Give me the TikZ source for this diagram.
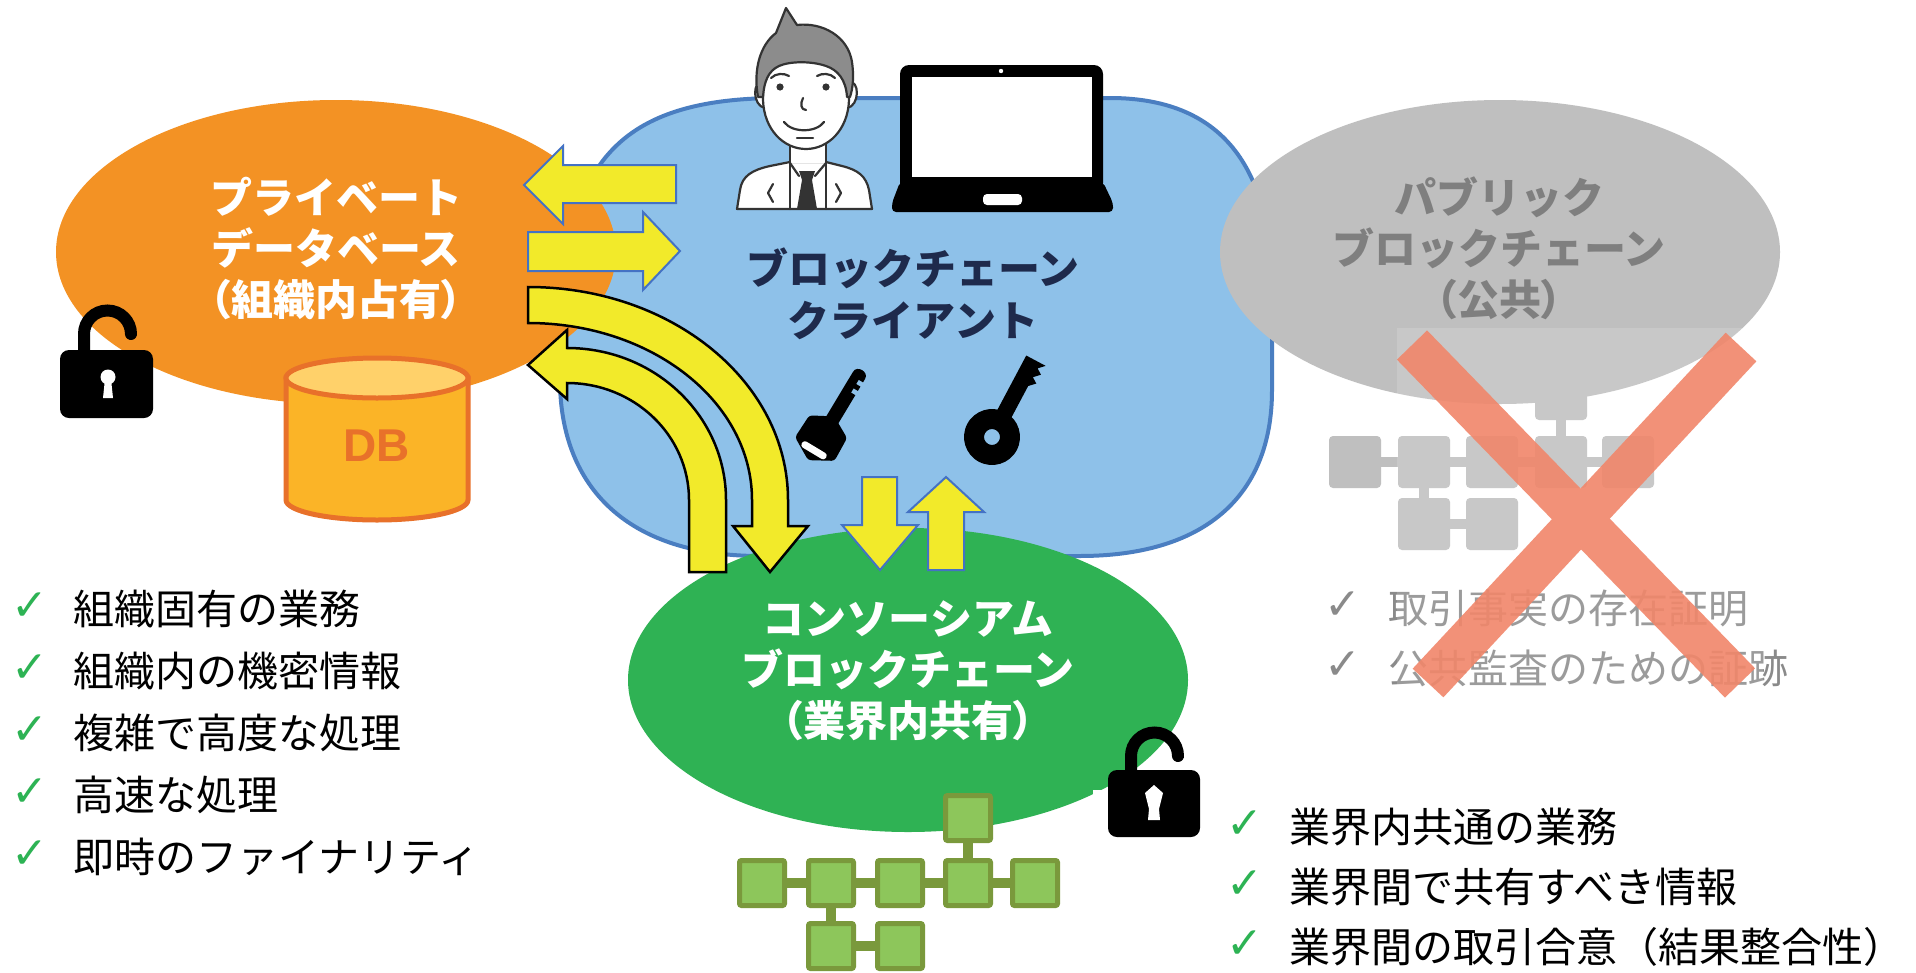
\documentclass[tikz,border=0pt]{standalone}
\usepackage{fontspec}
\usetikzlibrary{shapes.geometric}

\newfontfamily\jp{Noto Sans CJK JP}
\newfontfamily\jpprop{Noto Sans CJK JP}[RawFeature=+palt]
\newfontfamily\symfont{DejaVu Sans}
\newfontfamily\labelsans{Liberation Sans}

\definecolor{privorange}{HTML}{F39224}
\definecolor{cloudblue}{HTML}{8EC1E9}
\definecolor{cloudedge}{HTML}{4A7EC1}
\definecolor{pubgray}{HTML}{BFBFBF}
\definecolor{pubtext}{HTML}{7F7F7F}
\definecolor{consgreen}{HTML}{2FB254}
\definecolor{navy}{HTML}{1E2A4C}
\definecolor{arrowyellow}{HTML}{F2EA2A}
\definecolor{arrowblue}{HTML}{4472C4}
\definecolor{blockfill}{HTML}{8DC65B}
\definecolor{blockedge}{HTML}{7A993C}
\definecolor{dbbody}{HTML}{FBB427}
\definecolor{dbtop}{HTML}{FFD16A}
\definecolor{dbedge}{HTML}{E8712A}
\definecolor{crossred}{HTML}{F1866A}
\definecolor{tickgreen}{HTML}{2DB354}
\definecolor{ink}{HTML}{333333}
\definecolor{hair}{HTML}{8C8C8C}
\definecolor{listgray}{HTML}{8A8A8A}

\tikzset{
  bubble/.style={ellipse, inner sep=0pt, minimum width=560pt, minimum height=304pt},
  head/.style={align=center, inner sep=0pt, font=\jp\bfseries\fontsize{42}{51}\selectfont},
  item/.style={anchor=west, inner sep=0pt, font=\jp\fontsize{41}{41}\selectfont},
  tick/.style={inner sep=0pt, font=\symfont\bfseries\fontsize{44}{44}\selectfont},
  flatarrow/.style={fill=arrowyellow, draw=arrowblue, line width=2pt, line join=miter},
  bentarrow/.style={fill=arrowyellow, draw=black, line width=2.5pt, line join=miter},
  greenblock/.style={draw=blockedge, fill=blockfill, line width=5pt, rounded corners=2pt,
    minimum size=45pt, inner sep=0pt},
  grayblock/.style={fill=pubgray, rounded corners=4pt, minimum size=52pt, inner sep=0pt},
  greenlink/.style={draw=blockedge, line width=10pt},
  graylink/.style={draw=pubgray, line width=10pt},
  outline/.style={draw=ink, line width=2.2pt, line join=round, line cap=round},
}

\begin{document}
\begin{tikzpicture}[x=1pt, y=-1pt]
\useasboundingbox (0,0) rectangle (1916,972);
\fill[white] (0,0) rectangle (1916,972);

% ---------- blockchain client cloud ----------
\draw[fill=cloudblue, draw=cloudedge, line width=4pt]
  (780,98) -- (1110,98) .. controls (1228,98) and (1272,175) .. (1272,290)
  -- (1272,390) .. controls (1272,500) and (1200,556) .. (1080,556)
  -- (760,556) .. controls (620,556) and (560,480) .. (560,380)
  -- (560,350) .. controls (560,170) and (610,98) .. (780,98) -- cycle;

% ---------- three ledgers ----------
\node[bubble, fill=privorange] (priv) at (336,252) {};
\node[bubble, fill=pubgray] (pub) at (1500,252) {};
\node[bubble, fill=consgreen] (cons) at (908,680) {};

\node[head, text=white] (privtext) at (336,248)
  {プライベート\\データベース\\{\jpprop （組織内占有）}};
\node[head, text=pubtext] (pubtext) at (1499,248)
  {パブリック\\ブロックチェーン\\{\jpprop （公共）}};
\node[head, text=white] (constext) at (908,671)
  {コンソーシアム\\ブロックチェーン\\{\jpprop （業界内共有）}};
\node[head, text=navy, font=\jp\bfseries\fontsize{42}{52}\selectfont] (clienttext) at (913,294)
  {ブロックチェーン\\クライアント};

% ---------- user ----------
\begin{scope}
  % shoulders
  \draw[outline, fill=white]
    (737,209) -- (740,190) .. controls (742,176) and (752,170) .. (770,166) -- (790,162)
    -- (826,162) -- (842,166) .. controls (858,170) and (866,176) .. (869,190) -- (872,209) -- cycle;
  % neck
  \fill[white] (790,135) rectangle (826,163);
  \draw[outline] (790,140) -- (790,209) (826,140) -- (826,209);
  \draw[outline] (790,163) -- (799,176) (826,163) -- (815,176);
  % tie
  \fill[ink] (799,171) -- (815,171) -- (812,180) -- (802,180) -- cycle;
  \fill[ink] (802,180) -- (812,180) -- (817,209) -- (797,209) -- cycle;
  % lapel marks
  \draw[outline] (773,184) -- (768,193) -- (773,202) (836,184) -- (841,193) -- (836,202);
  % ears
  \draw[outline, fill=white] (764,82) .. controls (752,79) and (752,106) .. (765,108);
  \draw[outline, fill=white] (848,82) .. controls (860,79) and (860,106) .. (847,108);
  % face
  \fill[white] (763,62) -- (763,100) .. controls (764,130) and (784,149) .. (806,149)
    .. controls (828,149) and (848,130) .. (849,100) -- (849,62) -- cycle;
  \draw[outline] (763,66) -- (763,100) .. controls (764,130) and (784,149) .. (806,149)
    .. controls (828,149) and (848,130) .. (849,100) -- (849,66);
  % hair
  \draw[outline, fill=hair]
    (758,97) .. controls (753,70) and (760,45) .. (776,33) -- (786,8) -- (797,25)
    .. controls (822,22) and (848,36) .. (852,62) .. controls (854,76) and (853,88) .. (850,97)
    -- (847,97) .. controls (846,80) and (838,70) .. (826,66) .. controls (812,61) and (790,61) .. (779,66)
    .. controls (768,71) and (764,82) .. (763,97) -- cycle;
  % features
  \fill[ink] (780,87) circle (3.6pt) (826,87) circle (3.6pt);
  \draw[outline] (771,78) .. controls (776,73) and (784,73) .. (789,76);
  \draw[outline] (817,76) .. controls (822,73) and (830,73) .. (835,78);
  \draw[outline] (803,98) .. controls (800,104) and (801,110) .. (806,110);
  \draw[outline] (784,122) .. controls (792,133) and (816,133) .. (824,122);
  \draw[outline] (797,138) -- (813,138);
\end{scope}

% ---------- laptop ----------
\fill[black, rounded corners=9pt] (900,65) rectangle (1103,192);
\fill[white] (912,77) rectangle (1092,177);
\fill[white] (1001,71) circle (2.2pt);
\fill[black, rounded corners=4pt] (900,182) -- (1103,182) -- (1113,203) -- (1113,212) -- (892,212) -- (892,203) -- cycle;
\fill[white, rounded corners=4pt] (983,194) rectangle (1022,205);

% ---------- keys ----------
\begin{scope}[shift={(822,437)}, rotate=59]
  \fill[black, rounded corners=3pt] (-27,0) -- (-14,-23) -- (12,-22) -- (24,0) -- (12,22) -- (-14,23) -- cycle;
  \fill[white, rounded corners=3pt] (-19,-14) rectangle (-12,14);
  \fill[black] (18,-7) -- (72,-7) .. controls (80,-7) and (80,7) .. (72,7) -- (68,7) -- (68,2)
    -- (63,2) -- (63,7) -- (58,7) -- (58,2) -- (53,2) -- (53,7) -- (18,7) -- cycle;
\end{scope}
\begin{scope}[shift={(992,437)}, rotate=62]
  \fill[black, even odd rule] (0,0) circle (28pt) (0,0) circle (8pt);
  \fill[black] (20,-8) -- (88,-8) -- (88,14) -- (82,8) -- (78,14) -- (72,8) -- (68,14) -- (62,8) -- (20,8) -- cycle;
\end{scope}

% ---------- database ----------
\draw[fill=dbbody, draw=dbedge, line width=5pt]
  (286,378) -- (286,500) .. controls (286,511) and (327,520) .. (377,520)
  .. controls (427,520) and (468,511) .. (468,500) -- (468,378) -- cycle;
\draw[fill=dbtop, draw=dbedge, line width=5pt] (377,378) ellipse [x radius=91, y radius=20];
\node[text=dbedge, font=\labelsans\bfseries\fontsize{46}{46}\selectfont] (dblabel) at (377,446) {DB};

% ---------- open padlocks ----------
\begin{scope}[shift={(60,350)}]
  \draw[line width=12pt, line cap=round] (24,4) -- (24,-16) .. controls (24,-29) and (34.5,-39.5) .. (47.5,-39.5)
    .. controls (60.5,-39.5) and (71,-29) .. (71,-16);
  \fill[black, rounded corners=9pt] (0,0) rectangle (93,68);
  \fill[white] (48,27) circle (7.5pt);
  \fill[white] (45,29) -- (51,29) -- (53,48) -- (43,48) -- cycle;
\end{scope}
\fill[white] (1093,790) rectangle (1215,848);
\begin{scope}[shift={(1108,770)}]
  \draw[line width=12pt, line cap=round] (23,4) -- (23,-14) .. controls (23,-27) and (33.5,-37.5) .. (46.5,-37.5)
    .. controls (59.5,-37.5) and (70,-27) .. (70,-14);
  \fill[black, rounded corners=9pt] (0,0) rectangle (92,67);
  \fill[white] (46,15) -- (55,23) -- (51,39) -- (52,50) -- (40,50) -- (41,39) -- (37,23) -- cycle;
\end{scope}

% ---------- public chain (rejected) ----------
\node[grayblock] (pb1) at (1355,462) {};
\node[grayblock] (pb2) at (1424,462) {};
\node[grayblock] (pb3) at (1492,462) {};
\node[grayblock] (pb4) at (1561,462) {};
\node[grayblock] (pb5) at (1628,462) {};
\node[grayblock] (pbt) at (1561,394) {};
\node[grayblock] (pbb1) at (1424,524) {};
\node[grayblock] (pbb2) at (1492,524) {};
\draw[graylink] (pb1) -- (pb2);
\draw[graylink] (pb2) -- (pb3);
\draw[graylink] (pb3) -- (pb4);
\draw[graylink] (pb4) -- (pb5);
\draw[graylink] (pbt) -- (pb4);
\draw[graylink] (pb2) -- (pbb1);
\draw[graylink] (pbb1) -- (pbb2);

\node[tick, text=listgray] (pk1) at (1343,606) {✓};
\node[item, text=listgray, font=\jp\fontsize{40}{40}\selectfont] (pl1) at (1388,608) {取引事実の存在証明};
\node[tick, text=listgray] (pk2) at (1343,666) {✓};
\node[item, text=listgray, font=\jp\fontsize{40}{40}\selectfont] (pl2) at (1388,668) {公共監査のための証跡};

\fill[white, opacity=0.15] (1397,328) rectangle (1763,703);
\begin{scope}[transparency group, opacity=0.9]
  \draw[crossred, line width=42pt] (1412,345) -- (1740,683);
  \draw[crossred, line width=42pt] (1741,347) -- (1428,683);
\end{scope}

% ---------- consortium chain ----------
\node[greenblock] (cb1) at (762,883) {};
\node[greenblock] (cb2) at (831,883) {};
\node[greenblock] (cb3) at (900,883) {};
\node[greenblock] (cb4) at (968,883) {};
\node[greenblock] (cb5) at (1035,883) {};
\node[greenblock] (cbt) at (968,818) {};
\node[greenblock] (cbb1) at (831,946) {};
\node[greenblock] (cbb2) at (900,946) {};
\draw[greenlink] (cb1) -- (cb2);
\draw[greenlink] (cb2) -- (cb3);
\draw[greenlink] (cb3) -- (cb4);
\draw[greenlink] (cb4) -- (cb5);
\draw[greenlink] (cbt) -- (cb4);
\draw[greenlink] (cb2) -- (cbb1);
\draw[greenlink] (cbb1) -- (cbb2);

% ---------- data flow arrows ----------
\draw[flatarrow] (676,165) -- (563,165) -- (563,146) -- (524,185) -- (563,224) -- (563,203) -- (676,203) -- cycle;
\draw[flatarrow] (528,232) -- (643,232) -- (643,212) -- (680,251) -- (643,290) -- (643,271) -- (528,271) -- cycle;
\draw[bentarrow] (528,287) .. controls (672,287) and (788,382) .. (788,500) -- (788,526) -- (808,526)
  -- (770,572) -- (733,526) -- (752,526) -- (752,500) .. controls (752,402) and (652,323) .. (528,323) -- cycle;
\draw[bentarrow] (689,572) -- (726,572) -- (726,500) .. controls (726,416) and (655,348) .. (567,348)
  -- (567,330) -- (528,365) -- (567,399) -- (567,383) .. controls (634,383) and (689,435) .. (689,500) -- cycle;
\draw[flatarrow] (862,477) -- (897,477) -- (897,525) -- (918,525) -- (880,570) -- (842,525) -- (862,525) -- cycle;
\draw[flatarrow] (928,570) -- (964,570) -- (964,512) -- (984,512) -- (946,477) -- (908,512) -- (928,512) -- cycle;

% ---------- characteristic lists ----------
\node[tick, text=tickgreen] (lk1) at (30,607) {✓};
\node[item] (ll1) at (73,609) {組織固有の業務};
\node[tick, text=tickgreen] (lk2) at (30,669) {✓};
\node[item] (ll2) at (73,671) {組織内の機密情報};
\node[tick, text=tickgreen] (lk3) at (30,731) {✓};
\node[item] (ll3) at (73,733) {複雑で高度な処理};
\node[tick, text=tickgreen] (lk4) at (30,793) {✓};
\node[item] (ll4) at (73,795) {高速な処理};
\node[tick, text=tickgreen] (lk5) at (30,855) {✓};
\node[item] (ll5) at (73,857) {即時のファイナリティ};

\node[tick, text=tickgreen] (rk1) at (1245,825) {✓};
\node[item] (rl1) at (1289,827) {業界内共通の業務};
\node[tick, text=tickgreen] (rk2) at (1245,885) {✓};
\node[item] (rl2) at (1289,887) {業界間で共有すべき情報};
\node[tick, text=tickgreen] (rk3) at (1245,945) {✓};
\node[item] (rl3) at (1289,947) {業界間の取引合意（結果整合性）};
\end{tikzpicture}
\end{document}
